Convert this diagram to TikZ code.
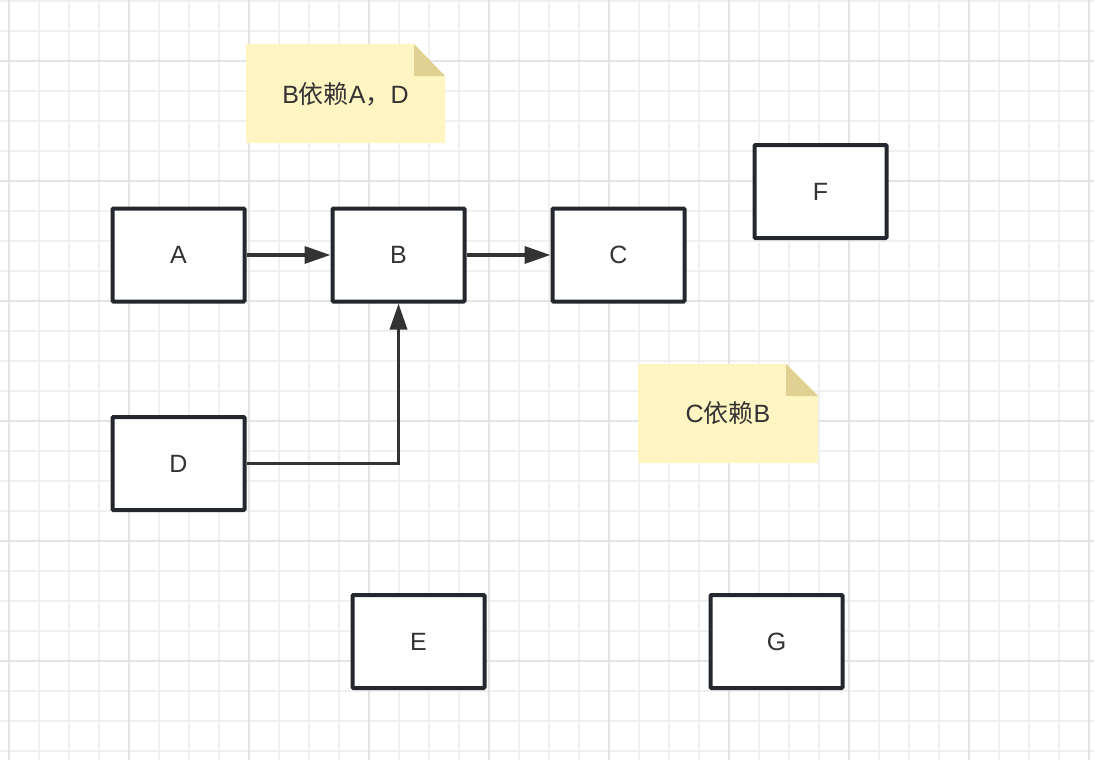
\documentclass[tikz,border=0pt]{standalone}
\usepackage{fontspec}
\setmainfont{Liberation Sans}
\newfontfamily\cjk{Noto Sans CJK SC}
\usetikzlibrary{arrows.meta}
\definecolor{gridminor}{RGB}{240,240,240}
\definecolor{gridmajor}{RGB}{228,228,228}
\definecolor{boxline}{RGB}{36,39,45}
\definecolor{arrowline}{RGB}{51,51,51}
\definecolor{textcol}{RGB}{51,51,51}
\definecolor{notefill}{RGB}{255,245,194}
\definecolor{notefold}{RGB}{224,209,146}

\tikzset{
  block/.style={draw=boxline, fill=white, line width=4pt, rounded corners=1pt,
    minimum width=132pt, minimum height=93pt, text=textcol,
    font=\fontsize{25}{30}\selectfont},
  dep/.style={draw=arrowline, line width=3.5pt, -{Triangle[length=26pt,width=17pt]}},
  notetext/.style={text=textcol, font=\fontsize{25}{30}\selectfont}
}

\begin{document}
\begin{tikzpicture}[x=1pt,y=-1pt]
  \useasboundingbox (0,0) rectangle (1094,760);
  \fill[white] (0,0) rectangle (1094,760);
  % grid
  \foreach \x in {9,39,...,1094} \draw[gridminor, line width=1.2pt] (\x,0) -- (\x,760);
  \foreach \y in {1,31,...,760} \draw[gridminor, line width=1.2pt] (0,\y) -- (1094,\y);
  \foreach \x in {9,129,...,1094} \draw[gridmajor, line width=1.6pt] (\x,0) -- (\x,760);
  \foreach \y in {61,181,...,760} \draw[gridmajor, line width=1.6pt] (0,\y) -- (1094,\y);

  % notes
  \fill[notefill] (246,44) -- (414,44) -- (445,76) -- (445,143) -- (246,143) -- cycle;
  \fill[notefold] (414,44) -- (445,76) -- (414,76) -- cycle;
  \node[notetext] (noteBD) at (345.5,94) {B{\cjk 依赖}A{\cjk ，}D};

  \fill[notefill] (638,364) -- (786,364) -- (818,396) -- (818,463) -- (638,463) -- cycle;
  \fill[notefold] (786,364) -- (818,396) -- (786,396) -- cycle;
  \node[notetext] (noteCB) at (728,413) {C{\cjk 依赖}B};

  % blocks
  \node[block] (A) at (178.5,255) {A};
  \node[block] (B) at (398.5,255) {B};
  \node[block] (C) at (618.5,255) {C};
  \node[block] (F) at (820.5,191.5) {F};
  \node[block] (D) at (178.5,463.5) {D};
  \node[block] (E) at (418.5,641.5) {E};
  \node[block] (G) at (776.5,641.5) {G};

  % dependencies
  \draw[dep] (A) -- (B);
  \draw[dep] (B) -- (C);
  \draw[dep] (D.east) -| (B.south);
\end{tikzpicture}
\end{document}
